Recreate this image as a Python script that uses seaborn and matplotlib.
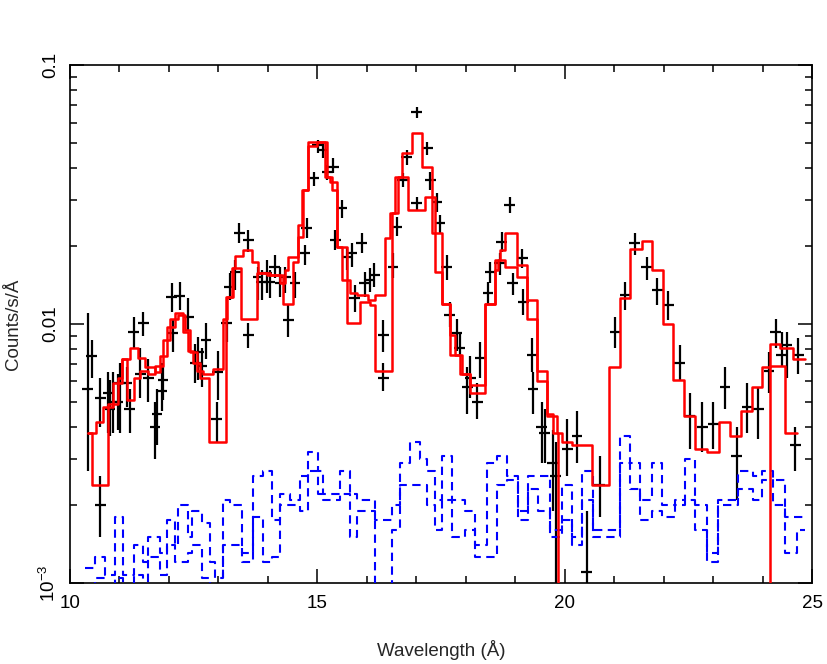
import matplotlib
matplotlib.use("Agg")
import matplotlib.pyplot as plt
import seaborn as sns
import numpy as np
from matplotlib.ticker import MultipleLocator, LogLocator, NullFormatter, FixedLocator, FixedFormatter

# ---------------- data ----------------
# model 1 (continuous) : bin edges (Angstrom) and counts/s/A
model1_edges = [10.36, 10.44, 10.77, 10.87, 10.97, 11.05, 11.21, 11.37, 11.52, 11.72, 11.82, 11.96,
                12.12, 12.28, 12.39, 12.49, 12.63, 12.81, 13.15, 13.29, 13.46, 13.78, 13.98, 14.31,
                14.51, 14.61, 14.69, 14.81, 14.99, 15.20, 15.26, 15.40, 15.60, 15.86, 16.06, 16.17,
                16.51, 16.63, 16.71, 16.91, 17.12, 17.32, 17.38, 17.52, 17.68, 17.88, 18.09, 18.39,
                18.59, 18.65, 18.79, 19.04, 19.24, 19.44, 19.64, 19.84, 19.95, 20.15, 20.55, 20.90,
                21.12, 21.32, 21.56, 21.77, 21.99, 22.19, 22.41, 22.63, 22.88, 23.12, 23.34, 23.56,
                23.79, 23.99, 24.15, 24.45, 24.70]
model1_vals = [0.0038, 0.0024, 0.0048, 0.0049, 0.0059, 0.0073, 0.0081, 0.0074, 0.0068, 0.0065,
               0.0075, 0.0097, 0.0110, 0.0093, 0.0079, 0.0071, 0.0062, 0.0035, 0.0127, 0.0164,
               0.0105, 0.0157, 0.0155, 0.0120, 0.0173, 0.0241, 0.0329, 0.0487, 0.0504, 0.0369,
               0.0353, 0.0198, 0.0101, 0.0122, 0.0118, 0.0066, 0.0268, 0.0369, 0.0457, 0.0546,
               0.0404, 0.0225, 0.0159, 0.0120, 0.0076, 0.0064, 0.0054, 0.0120, 0.0162, 0.0177,
               0.0166, 0.0152, 0.0105, 0.0060, 0.0044, 0.0038, 0.0035, 0.0034, 0.0024, 0.0068,
               0.0126, 0.0195, 0.0209, 0.0162, 0.0100, 0.0061, 0.0044, 0.0033, 0.0032, 0.0042,
               0.0037, 0.0046, 0.0057, 0.0068, 0.0069, 0.0038]

# model 2 (with the chip gap 19.86-24.15 A)
model2_edges = [10.36, 10.53, 10.67, 10.77, 10.87, 10.97, 11.05, 11.15, 11.29, 11.42, 11.58, 11.72,
                11.88, 12.02, 12.18, 12.32, 12.43, 12.57, 12.69, 12.89, 13.09, 13.17, 13.27, 13.34,
                13.50, 13.68, 13.80, 14.04, 14.25, 14.35, 14.41, 14.61, 14.71, 14.81, 15.15, 15.30,
                15.40, 15.50, 15.66, 15.80, 16.02, 16.17, 16.37, 16.47, 16.57, 16.83, 17.18, 17.38,
                17.52, 17.68, 17.78, 17.92, 18.09, 18.39, 18.59, 18.69, 18.79, 19.04, 19.24, 19.44,
                19.64, 19.76, 19.86, 24.15, 24.35, 24.61, 24.86]
model2_vals = [0.0038, 0.0042, 0.0048, 0.0049, 0.0059, 0.0062, 0.0073, 0.0051, 0.0062, 0.0066,
               0.0064, 0.0069, 0.0087, 0.0105, 0.0108, 0.0095, 0.0078, 0.0066, 0.0064, 0.0067,
               0.0105, 0.0127, 0.0164, 0.0183, 0.0193, 0.0173, 0.0157, 0.0155, 0.0144, 0.0162,
               0.0181, 0.0217, 0.0329, 0.0504, 0.0369, 0.0329, 0.0198, 0.0148, 0.0132, 0.0129,
               0.0124, 0.0129, 0.0215, 0.0268, 0.0369, 0.0275, 0.0309, 0.0225, 0.0120, 0.0091,
               0.0076, 0.0064, 0.0058, 0.0120, 0.0177, 0.0193, 0.0225, 0.0169, 0.0124, 0.0066,
               0.0045, 0.0038, 1e-6, 0.0084, 0.0081, 0.0073]

# background spectra (two instruments), shared bin edges
bkg_edges = [10.30, 10.51, 10.71, 10.91, 11.07, 11.29, 11.48, 11.58, 11.82, 11.96, 12.12, 12.18,
             12.39, 12.47, 12.67, 12.83, 12.93, 13.09, 13.23, 13.48, 13.70, 13.90, 14.08, 14.25,
             14.45, 14.65, 14.81, 15.01, 15.11, 15.46, 15.66, 15.80, 16.17, 16.51, 16.67, 16.87,
             17.07, 17.22, 17.38, 17.52, 17.72, 17.98, 18.19, 18.43, 18.63, 18.83, 19.06, 19.26,
             19.46, 19.70, 19.95, 20.15, 20.35, 20.57, 20.88, 21.12, 21.32, 21.52, 21.76, 21.97,
             22.23, 22.43, 22.63, 22.88, 23.10, 23.50, 23.81, 23.99, 24.21, 24.45, 24.70, 24.86]
bkg1_vals = [0.00114, 0.00126, 0.00107, 0.0018, 0.00107, 0.0014, 0.0012, 0.0015, 0.0013, 0.00175,
             0.0014, 0.0020, 0.0015, 0.0019, 0.0017, 0.0012, 0.00105, 0.0021, 0.0020, 0.0013,
             0.0026, 0.0027, 0.00175, 0.0022, 0.0021, 0.0026, 0.0032, 0.0027, 0.0022, 0.0027,
             0.0022, 0.0021, 0.00175, 0.0020, 0.0029, 0.0035, 0.0030, 0.0027, 0.0021, 0.0031,
             0.0021, 0.0019, 0.0014, 0.0029, 0.0031, 0.0026, 0.0019, 0.0026, 0.0026, 0.0016,
             0.0024, 0.0015, 0.0027, 0.0016, 0.0016, 0.0037, 0.0029, 0.0021, 0.0029, 0.0020,
             0.0021, 0.0030, 0.0020, 0.0013, 0.0021, 0.0027, 0.0026, 0.0027, 0.0025, 0.0018,
             0.0018]
bkg2_vals = [0.0008, 0.00105, 0.0008, 0.00105, 0.0008, 0.00107, 0.0008, 0.00126, 0.00107, 0.0014,
             0.0012, 0.0012, 0.0013, 0.0014, 0.00105, 0.0008, 0.0008, 0.0014, 0.0014, 0.0012,
             0.0018, 0.0012, 0.00126, 0.0020, 0.0020, 0.0019, 0.0027, 0.0022, 0.0021, 0.0022,
             0.0015, 0.0019, 0.0008, 0.0016, 0.0024, 0.0024, 0.0024, 0.0020, 0.0016, 0.0021,
             0.0015, 0.0016, 0.00126, 0.00126, 0.0024, 0.0025, 0.00175, 0.0023, 0.0019, 0.0015,
             0.00175, 0.0014, 0.0021, 0.0015, 0.0015, 0.0029, 0.0023, 0.00175, 0.0019, 0.0018,
             0.0020, 0.0021, 0.0016, 0.0012, 0.0020, 0.0023, 0.0021, 0.0025, 0.0020, 0.0013,
             0.0016]

# observed data points
wave = [10.36, 10.44, 10.61, 10.61, 10.77, 10.81, 10.87, 10.97, 11.01, 11.15, 11.21, 11.29, 11.48,
        11.42, 11.58, 11.72, 11.76, 11.86, 11.88, 12.06, 12.22, 12.08, 12.39, 12.53, 12.59, 12.67,
        12.75, 12.97, 12.99, 13.17, 13.23, 13.34, 13.42, 13.60, 13.60, 13.80, 13.88, 13.98, 14.04,
        14.14, 14.25, 14.35, 14.41, 14.55, 14.75, 14.79, 14.93, 15.01, 15.11, 15.20, 15.32, 15.36,
        15.50, 15.60, 15.70, 15.76, 15.90, 15.96, 16.06, 16.15, 16.33, 16.33, 16.53, 16.61, 16.73,
        16.81, 17.01, 17.01, 17.22, 17.28, 17.42, 17.48, 17.62, 17.68, 17.82, 17.88, 18.03, 18.09,
        18.23, 18.29, 18.45, 18.49, 18.69, 18.73, 18.89, 18.95, 19.14, 19.16, 19.34, 19.36, 19.54,
        19.60, 19.76, 19.82, 20.05, 20.25, 20.45, 20.71, 21.02, 21.22, 21.42, 21.66, 21.87, 22.09,
        22.33, 22.53, 22.78, 23.00, 23.24, 23.48, 23.69, 23.91, 24.13, 24.27, 24.39, 24.49, 24.72,
        24.66]
flux = [0.0056, 0.0075, 0.0020, 0.0052, 0.0054, 0.0047, 0.0050, 0.0050, 0.0059, 0.0059, 0.0047,
        0.0093, 0.0101, 0.0064, 0.0062, 0.0040, 0.0045, 0.0055, 0.0061, 0.0127, 0.0128, 0.0092,
        0.0106, 0.0071, 0.0078, 0.0069, 0.0087, 0.0043, 0.0065, 0.0101, 0.0139, 0.0159, 0.0225,
        0.0211, 0.0091, 0.0152, 0.0145, 0.0157, 0.0145, 0.0166, 0.0144, 0.0152, 0.0104, 0.0144,
        0.0188, 0.0235, 0.0366, 0.0491, 0.0469, 0.0386, 0.0404, 0.0211, 0.0280, 0.0181, 0.0188,
        0.0126, 0.0205, 0.0144, 0.0148, 0.0155, 0.0091, 0.0062, 0.0166, 0.0238, 0.0360, 0.0441,
        0.0658, 0.0293, 0.0478, 0.0360, 0.0295, 0.0245, 0.0166, 0.0108, 0.0092, 0.0081, 0.0057,
        0.0062, 0.0050, 0.0074, 0.0132, 0.0159, 0.0172, 0.0207, 0.0288, 0.0144, 0.0180, 0.0122,
        0.0076, 0.0056, 0.0040, 0.0038, 0.0029, 0.0026, 0.0033, 0.0037, 0.0011, 0.0024, 0.0093,
        0.0129, 0.0205, 0.0166, 0.0135, 0.0118, 0.0071, 0.0044, 0.0040, 0.0041, 0.0057, 0.0031,
        0.0048, 0.0047, 0.0066, 0.0093, 0.0076, 0.0083, 0.0076, 0.0034]
flux_lo = [0.0027, 0.0062, 0.0015, 0.0040, 0.0038, 0.0037, 0.0038, 0.0039, 0.0038, 0.0048, 0.0038,
           0.0081, 0.0090, 0.0052, 0.0050, 0.0030, 0.0034, 0.0046, 0.0051, 0.0111, 0.0113, 0.0078,
           0.0095, 0.0059, 0.0061, 0.0057, 0.0073, 0.0035, 0.0051, 0.0085, 0.0124, 0.0135, 0.0205,
           0.0190, 0.0081, 0.0124, 0.0124, 0.0132, 0.0126, 0.0150, 0.0127, 0.0132, 0.0089, 0.0126,
           0.0169, 0.0215, 0.0340, 0.0457, 0.0437, 0.0360, 0.0382, 0.0193, 0.0256, 0.0162, 0.0166,
           0.0111, 0.0188, 0.0127, 0.0133, 0.0139, 0.0078, 0.0055, 0.0150, 0.0218, 0.0338, 0.0411,
           0.0627, 0.0275, 0.0449, 0.0329, 0.0270, 0.0225, 0.0148, 0.0097, 0.0079, 0.0075, 0.0045,
           0.0052, 0.0043, 0.0062, 0.0118, 0.0144, 0.0155, 0.0190, 0.0268, 0.0129, 0.0164, 0.0108,
           0.0065, 0.0045, 0.0029, 0.0029, 0.0019, 0.0009, 0.0026, 0.0029, 0.0009, 0.0018, 0.0081,
           0.0113, 0.0185, 0.0148, 0.0118, 0.0104, 0.0061, 0.0033, 0.0032, 0.0033, 0.0047, 0.0021,
           0.0038, 0.0036, 0.0054, 0.0081, 0.0069, 0.0062, 0.0064, 0.0027]
flux_hi = [0.0110, 0.0087, 0.0026, 0.0062, 0.0065, 0.0061, 0.0065, 0.0064, 0.0071, 0.0068, 0.0056,
           0.0106, 0.0111, 0.0081, 0.0073, 0.0050, 0.0056, 0.0071, 0.0068, 0.0144, 0.0145, 0.0104,
           0.0126, 0.0084, 0.0089, 0.0081, 0.0101, 0.0050, 0.0079, 0.0113, 0.0157, 0.0177, 0.0245,
           0.0231, 0.0101, 0.0166, 0.0162, 0.0177, 0.0162, 0.0185, 0.0166, 0.0166, 0.0118, 0.0159,
           0.0202, 0.0256, 0.0386, 0.0515, 0.0500, 0.0411, 0.0437, 0.0231, 0.0301, 0.0198, 0.0205,
           0.0141, 0.0225, 0.0159, 0.0164, 0.0172, 0.0104, 0.0071, 0.0188, 0.0258, 0.0382, 0.0469,
           0.0690, 0.0309, 0.0504, 0.0386, 0.0320, 0.0263, 0.0185, 0.0122, 0.0105, 0.0093, 0.0068,
           0.0075, 0.0059, 0.0085, 0.0145, 0.0173, 0.0188, 0.0227, 0.0309, 0.0157, 0.0195, 0.0137,
           0.0088, 0.0065, 0.0050, 0.0047, 0.0039, 0.0035, 0.0043, 0.0046, 0.0019, 0.0031, 0.0106,
           0.0145, 0.0225, 0.0181, 0.0150, 0.0134, 0.0083, 0.0054, 0.0050, 0.0050, 0.0068, 0.0040,
           0.0059, 0.0057, 0.0078, 0.0105, 0.0093, 0.0093, 0.0088, 0.0040]
wave_halfwidth = 0.11

x_ticks = [10, 15, 20, 25]
y_ticks = [1e-3, 1e-2, 1e-1]
y_ticklabels = ["10$^{-3}$", "0.01", "0.1"]

# ---------------- style ----------------
sns.set_style("ticks")
plt.rcParams['font.family'] = ['Liberation Sans', 'DejaVu Sans']
plt.rcParams['mathtext.fontset'] = 'custom'
plt.rcParams['mathtext.rm'] = 'Liberation Sans'
plt.rcParams['mathtext.it'] = 'Liberation Sans'

fig = plt.figure(figsize=(8.28, 6.64), dpi=100)
ax = fig.add_axes([0.0845, 0.122, 0.8962, 0.780])
ax.set_yscale('log')


def step_xy(edges, vals):
    return list(edges), list(vals) + [vals[-1]]


# data crosses
w = np.array(wave)
f = np.array(flux)
ax.errorbar(w, f, xerr=wave_halfwidth,
            yerr=[f - np.array(flux_lo), np.array(flux_hi) - f],
            fmt='none', ecolor='black', elinewidth=1.6, capsize=0, zorder=2)

# background (dashed blue)
for vals in (bkg1_vals, bkg2_vals):
    x, y = step_xy(bkg_edges, vals)
    sns.lineplot(x=x, y=y, ax=ax, drawstyle='steps-post', color='#0000ff', linewidth=1.5,
                 linestyle=(0, (4, 2.6)), estimator=None, sort=False, zorder=3)

# models (red)
for edges, vals in ((model1_edges, model1_vals), (model2_edges, model2_vals)):
    x, y = step_xy(edges, vals)
    sns.lineplot(x=x, y=y, ax=ax, drawstyle='steps-post', color='#ff0000', linewidth=1.8,
                 estimator=None, sort=False, zorder=4)

ax.set_xlim(10, 25)
ax.set_ylim(1e-3, 0.1)

ax.xaxis.set_major_locator(FixedLocator(x_ticks))
ax.xaxis.set_minor_locator(MultipleLocator(1))
ax.set_xticklabels([str(t) for t in x_ticks])
ax.yaxis.set_major_locator(FixedLocator(y_ticks))
ax.yaxis.set_major_formatter(FixedFormatter(y_ticklabels))
ax.yaxis.set_minor_locator(LogLocator(base=10, subs=np.arange(2, 10), numticks=20))
ax.yaxis.set_minor_formatter(NullFormatter())

for lab in ax.get_yticklabels():
    lab.set_rotation(90)
    lab.set_va('center')

ax.tick_params(which='both', direction='in', top=True, right=True, width=1.1, colors='black',
               labelsize=13.5)
ax.tick_params(which='major', length=10)
ax.tick_params(which='minor', length=5)
ax.tick_params(axis='x', pad=9)
ax.tick_params(axis='y', pad=8)
for s in ax.spines.values():
    s.set_linewidth(1.2)
    s.set_color('black')
    s.set_visible(True)

ax.set_xlabel("Wavelength (Å)", fontsize=13.5, labelpad=20)
ax.set_ylabel("Counts/s/Å", fontsize=13.5, labelpad=12)
if ax.get_legend() is not None:
    ax.get_legend().remove()

fig.savefig("out.png", dpi=100)
